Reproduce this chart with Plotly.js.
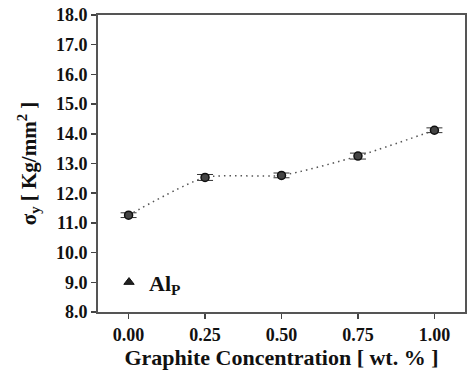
<!DOCTYPE html>
<html><head><meta charset="utf-8">
<script src="https://cdn.plot.ly/plotly-3.0.1.min.js"></script>
<style>html,body{margin:0;padding:0;background:#fff}#c{width:468px;height:375px}</style>
</head><body><div id="c"></div>
<script>
const concentration = [0.00, 0.25, 0.50, 0.75, 1.00];
const yieldStrength = [11.26, 12.53, 12.60, 13.25, 14.12];
const errorValues = [0.08, 0.10, 0.08, 0.10, 0.08];
const xTickVals = [0, 0.25, 0.5, 0.75, 1.0];
const xTickText = ['0.00', '0.25', '0.50', '0.75', '1.00'];
const yTickVals = [8, 9, 10, 11, 12, 13, 14, 15, 16, 17, 18];
const yTickText = yTickVals.map(v => v.toFixed(1));
const seriesName = 'Al<sub>P</sub>';

const fam = 'Liberation Serif, Times New Roman, serif';

const traces = [
  {
    x: concentration, y: yieldStrength, type: 'scatter', mode: 'lines+markers',
    line: {shape: 'spline', smoothing: 0.6, dash: '1.5px,4px', color: '#555', width: 1.5},
    marker: {symbol: 'circle', size: 8, color: '#444', line: {color: '#111', width: 1.5}},
    error_y: {type: 'data', array: errorValues, visible: true, color: '#333', thickness: 1, width: 8},
    showlegend: false
  },
  {
    x: [null], y: [null], type: 'scatter', mode: 'markers', name: seriesName,
    marker: {symbol: 'triangle-up', size: 9, color: '#222', line: {color: '#111', width: 1}},
    showlegend: true
  }
];

const layout = {
  width: 468, height: 375,
  margin: {l: 98, r: 3, t: 15, b: 63},
  paper_bgcolor: '#fff', plot_bgcolor: '#fff',
  font: {family: fam, color: '#111'},
  xaxis: {
    range: [-0.1, 1.1], tickvals: xTickVals, ticktext: xTickText,
    ticks: 'outside', ticklen: 5, tickwidth: 1.5, tickcolor: '#444',
    showline: true, linecolor: '#555', linewidth: 2, mirror: true,
    showgrid: false, zeroline: false,
    tickfont: {family: fam, size: 18, color: '#111', weight: 'bold'},
    title: {text: '<b>Graphite Concentration [ wt. % ]</b>', font: {family: fam, size: 22, color: '#111'}, standoff: 2}
  },
  yaxis: {
    range: [8, 18], tickvals: yTickVals, ticktext: yTickText,
    ticks: 'outside', ticklen: 5, tickwidth: 1.5, tickcolor: '#444',
    showline: true, linecolor: '#555', linewidth: 2, mirror: true,
    showgrid: false, zeroline: false,
    tickfont: {family: fam, size: 18, color: '#111', weight: 'bold'},
    title: {text: '<b>σ<sub>y</sub> [ Kg/mm<sup>2</sup> ]</b>', font: {family: fam, size: 21, color: '#111'}, standoff: 14}
  },
  legend: {
    x: 0.03, y: 0.10, xanchor: 'left', yanchor: 'middle',
    bgcolor: 'rgba(0,0,0,0)',
    font: {family: fam, size: 22, color: '#111', weight: 'bold'}
  },
  showlegend: true
};

Plotly.newPlot('c', traces, layout, {displayModeBar: false, staticPlot: true});
</script>
</body></html>
